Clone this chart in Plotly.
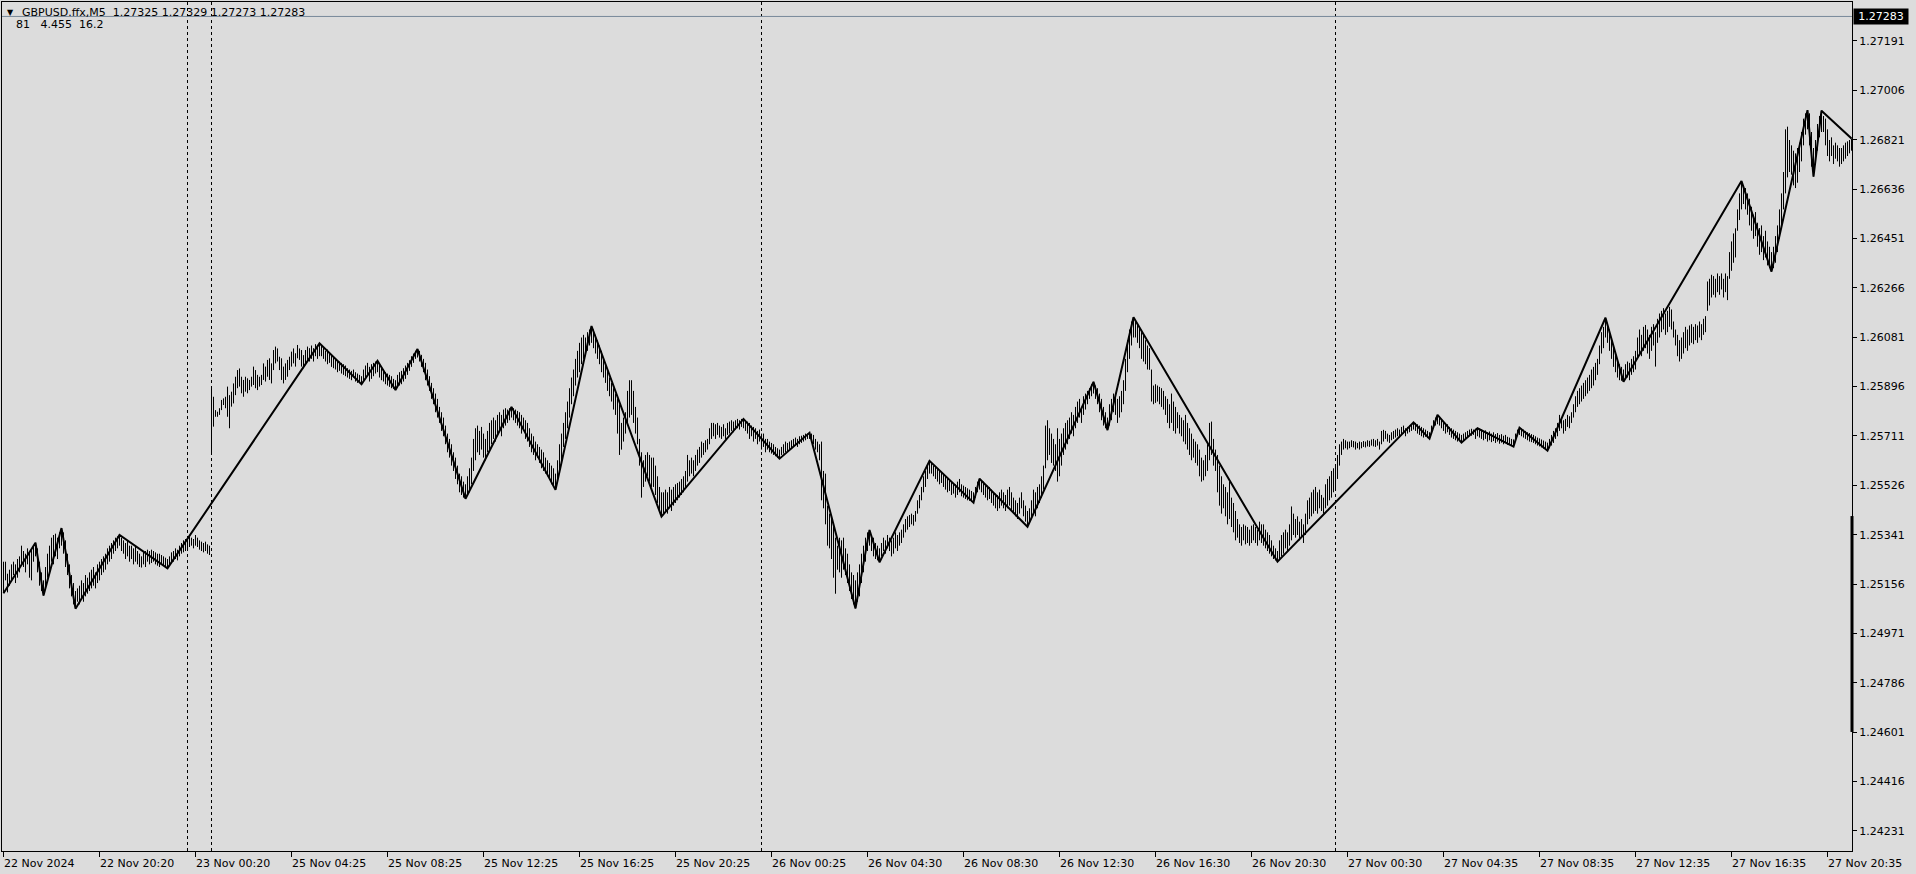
import plotly.graph_objects as go

# Prices are stored as points (0.00001) above 1.24000
BASE = 1.24

lows_pts = [
    1122, 1170, 1125, 1150, 1170, 1190, 1160, 1180, 1200, 1230,
    1220, 1200, 1230, 1180, 1170, 1240, 1260, 1200, 1150, 1130,
    1113, 1140, 1180, 1200, 1240, 1230, 1260, 1250, 1290, 1300,
    1270, 1220, 1190, 1140, 1110, 1080, 1064, 1090, 1080, 1100,
    1090, 1110, 1120, 1130, 1140, 1150, 1140, 1160, 1170, 1190,
    1200, 1210, 1230, 1240, 1250, 1270, 1280, 1290, 1300, 1280,
    1270, 1250, 1260, 1240, 1250, 1230, 1240, 1230, 1220, 1218,
    1230, 1220, 1240, 1230, 1235, 1240, 1230, 1225, 1220, 1230,
    1225, 1220, 1215, 1225, 1235, 1240, 1250, 1245, 1260, 1270,
    1275, 1280, 1290, 1295, 1300, 1290, 1300, 1295, 1285, 1280,
    1275, 1280, 1270, 1265, 1640, 1746, 1783, 1783, 1790, 1808,
    1827, 1815, 1783, 1740, 1821, 1833, 1864, 1890, 1896, 1871,
    1858, 1877, 1871, 1883, 1896, 1902, 1890, 1883, 1896, 1902,
    1921, 1915, 1933, 1921, 1908, 1958, 1983, 1990, 1958, 1921,
    1908, 1921, 1933, 1958, 1971, 1983, 1971, 2002, 1996, 1971,
    1965, 1983, 1996, 1990, 2000, 1990, 2010, 2000, 2010, 2010,
    2000, 1990, 1980, 1985, 1970, 1965, 1960, 1950, 1955, 1945,
    1940, 1935, 1930, 1925, 1920, 1930, 1915, 1910, 1915, 1905,
    1920, 1930, 1940, 1915, 1925, 1935, 1945, 1950, 1930, 1920,
    1915, 1905, 1900, 1895, 1890, 1888, 1883, 1895, 1900, 1905,
    1915, 1925, 1940, 1955, 1970, 1985, 2000, 2005, 1990, 1970,
    1950, 1920, 1900, 1880, 1850, 1830, 1800, 1780, 1760, 1730,
    1710, 1680, 1650, 1630, 1600, 1580, 1550, 1530, 1500, 1490,
    1480, 1476, 1490, 1500, 1530, 1580, 1620, 1650, 1640, 1660,
    1630, 1620, 1650, 1660, 1680, 1700, 1690, 1720, 1730, 1710,
    1740, 1750, 1760, 1770, 1780, 1770, 1760, 1750, 1740, 1720,
    1730, 1700, 1690, 1670, 1650, 1640, 1620, 1630, 1610, 1590,
    1580, 1570, 1560, 1550, 1530, 1520, 1509, 1540, 1580, 1620,
    1670, 1700, 1740, 1780, 1830, 1860, 1900, 1930, 1950, 1980,
    2000, 2010, 2030, 2050, 2060, 2040, 2020, 2000, 1980, 1950,
    1930, 1910, 1880, 1860, 1840, 1810, 1790, 1720, 1640, 1660,
    1690, 1720, 1760, 1780, 1790, 1760, 1720, 1680, 1600, 1480,
    1520, 1540, 1560, 1540, 1520, 1520, 1490, 1460, 1430, 1409,
    1420, 1430, 1420, 1440, 1430, 1450, 1460, 1470, 1480, 1490,
    1500, 1520, 1540, 1560, 1570, 1560, 1580, 1600, 1610, 1630,
    1640, 1650, 1660, 1680, 1700, 1710, 1700, 1715, 1705, 1700,
    1710, 1700, 1715, 1720, 1730, 1725, 1735, 1740, 1735, 1745,
    1740, 1730, 1720, 1700, 1710, 1690, 1700, 1680, 1690, 1660,
    1670, 1650, 1660, 1650, 1645, 1640, 1635, 1630, 1626, 1640,
    1645, 1650, 1655, 1660, 1665, 1670, 1675, 1670, 1680, 1685,
    1690, 1695, 1700, 1700, 1690, 1680, 1660, 1650, 1620, 1470,
    1440, 1380, 1300, 1290, 1250, 1180, 1120, 1210, 1200, 1180,
    1210, 1190, 1160, 1130, 1100, 1080, 1065, 1090, 1110, 1160,
    1200, 1240, 1280, 1300, 1280, 1260, 1250, 1245, 1238, 1260,
    1280, 1270, 1290, 1280, 1260, 1270, 1290, 1280, 1300, 1310,
    1330, 1350, 1360, 1370, 1380, 1375, 1390, 1420, 1440, 1470,
    1500, 1520, 1550, 1570, 1570, 1560, 1550, 1540, 1530, 1535,
    1520, 1510, 1500, 1505, 1490, 1495, 1480, 1490, 1500, 1485,
    1480, 1475, 1470, 1468, 1465, 1461, 1480, 1500, 1510, 1500,
    1490, 1480, 1470, 1475, 1460, 1450, 1440, 1430, 1440, 1450,
    1440, 1430, 1440, 1450, 1430, 1420, 1410, 1400, 1420, 1440,
    1410, 1390, 1371, 1390, 1400, 1420, 1410, 1440, 1460, 1480,
    1510, 1590, 1620, 1640, 1610, 1600, 1580, 1540, 1560, 1600,
    1640, 1660, 1680, 1700, 1720, 1710, 1740, 1760, 1780, 1760,
    1790, 1810, 1830, 1850, 1860, 1870, 1850, 1830, 1800, 1770,
    1750, 1740, 1733, 1750, 1770, 1800, 1790, 1760, 1780, 1800,
    1830, 1880, 1950, 2000, 2050, 2080, 2080, 2060, 2040, 2000,
    1990, 1980, 1960, 1959, 1840, 1830, 1835, 1840, 1830, 1820,
    1810, 1790, 1760, 1740, 1760, 1730, 1720, 1740, 1720, 1710,
    1690, 1680, 1660, 1640, 1620, 1630, 1610, 1600, 1560, 1540,
    1545, 1560, 1580, 1620, 1640, 1600, 1580, 1500, 1450, 1420,
    1440, 1410, 1380, 1400, 1370, 1350, 1320, 1330, 1310, 1300,
    1320, 1305, 1310, 1300, 1310, 1320, 1310, 1300, 1320, 1310,
    1300, 1290, 1280, 1270, 1260, 1250, 1245, 1240, 1250, 1260,
    1270, 1290, 1280, 1300, 1320, 1340, 1330, 1340, 1320, 1330,
    1310, 1340, 1380, 1400, 1410, 1420, 1430, 1420, 1440, 1430,
    1420, 1440, 1450, 1470, 1480, 1500, 1510, 1550, 1600, 1640,
    1660, 1665, 1660, 1665, 1670, 1668, 1660, 1665, 1660, 1665,
    1670, 1668, 1672, 1670, 1675, 1672, 1670, 1675, 1660, 1680,
    1690, 1700, 1690, 1685, 1695, 1700, 1705, 1710, 1705, 1715,
    1720, 1710, 1720, 1725, 1730, 1735, 1730, 1720, 1715, 1710,
    1705, 1708, 1703, 1701, 1720, 1740, 1750, 1755, 1750, 1740,
    1730, 1720, 1725, 1715, 1705, 1700, 1695, 1690, 1692, 1686,
    1695, 1700, 1705, 1710, 1712, 1715, 1700, 1710, 1705, 1700,
    1695, 1700, 1690, 1695, 1688, 1692, 1685, 1690, 1682, 1686,
    1680, 1684, 1678, 1680, 1675, 1671, 1690, 1710, 1715, 1710,
    1705, 1700, 1695, 1690, 1688, 1685, 1680, 1675, 1672, 1668,
    1664, 1660, 1656, 1665, 1675, 1685, 1700, 1710, 1730, 1740,
    1720, 1730, 1745, 1740, 1760, 1780, 1800, 1820, 1830, 1840,
    1850, 1860, 1870, 1880, 1890, 1900, 1920, 1940, 1980, 2020,
    2040, 2080, 2060, 2030, 2000, 1970, 1950, 1930, 1920, 1918,
    1914, 1925, 1930, 1920, 1940, 1950, 1960, 2000, 2020, 2010,
    2030, 2040, 2020, 2000, 2030, 2050, 1971, 2060, 2080, 2100,
    2110, 2090, 2100, 2120, 2110, 2080, 2050, 2010, 1990, 2000,
    2020, 2040, 2030, 2050, 2060, 2055, 2070, 2060, 2080, 2070,
    2090, 2100, 2180, 2200, 2230, 2240, 2230, 2250, 2240, 2260,
    2230, 2250, 2220, 2300, 2330, 2360, 2380, 2480, 2520, 2560,
    2580, 2560, 2540, 2500, 2480, 2450, 2460, 2420, 2390, 2400,
    2370, 2380, 2350, 2340, 2327, 2340, 2360, 2400, 2450, 2500,
    2560, 2620, 2680, 2700, 2690, 2650, 2640, 2660, 2700, 2740,
    2800, 2840, 2860, 2800, 2720, 2683, 2730, 2780, 2830, 2850,
    2850, 2800, 2760, 2740, 2760, 2730, 2750, 2740, 2720, 2730,
    2740, 2750, 2760, 2770, 2780,
]

highs_pts = [
    1240, 1240, 1195, 1210, 1230, 1240, 1230, 1250, 1260, 1300,
    1280, 1270, 1290, 1280, 1290, 1300, 1311, 1290, 1240, 1200,
    1170, 1220, 1270, 1300, 1330, 1340, 1345, 1330, 1350, 1366,
    1350, 1320, 1270, 1230, 1190, 1160, 1130, 1140, 1150, 1170,
    1160, 1190, 1180, 1200, 1210, 1220, 1200, 1230, 1240, 1250,
    1260, 1270, 1290, 1300, 1310, 1320, 1330, 1335, 1340, 1330,
    1320, 1310, 1320, 1300, 1300, 1290, 1300, 1280, 1270, 1260,
    1280, 1280, 1285, 1280, 1285, 1280, 1275, 1270, 1270, 1265,
    1260, 1255, 1250, 1260, 1275, 1280, 1290, 1285, 1300, 1310,
    1320, 1325, 1330, 1335, 1330, 1325, 1340, 1330, 1320, 1315,
    1310, 1315, 1305, 1300, 1896, 1858, 1808, 1802, 1815, 1846,
    1852, 1858, 1896, 1864, 1877, 1908, 1933, 1958, 1964, 1933,
    1921, 1933, 1927, 1921, 1933, 1971, 1958, 1940, 1933, 1940,
    1983, 1971, 1996, 2002, 1983, 2033, 2046, 2039, 2008, 2002,
    1971, 1983, 1996, 2008, 2027, 2039, 2021, 2052, 2039, 2033,
    2014, 2033, 2046, 2040, 2050, 2040, 2055, 2045, 2058, 2050,
    2045, 2030, 2035, 2020, 2015, 2010, 2000, 1995, 1990, 1985,
    1980, 1975, 1965, 1960, 1955, 1960, 1950, 1945, 1940, 1935,
    1960, 1975, 1985, 1970, 1980, 1985, 1990, 1993, 1980, 1970,
    1960, 1950, 1945, 1940, 1935, 1925, 1920, 1940, 1950, 1955,
    1965, 1975, 1985, 1995, 2010, 2020, 2030, 2037, 2030, 2015,
    2000, 1985, 1960, 1935, 1910, 1890, 1870, 1850, 1820, 1800,
    1780, 1750, 1720, 1700, 1680, 1650, 1630, 1600, 1570, 1560,
    1540, 1530, 1560, 1590, 1630, 1700, 1740, 1750, 1730, 1745,
    1720, 1700, 1730, 1760, 1770, 1780, 1770, 1790, 1800, 1790,
    1810, 1815, 1810, 1815, 1820, 1815, 1810, 1805, 1800, 1790,
    1780, 1770, 1760, 1740, 1720, 1710, 1690, 1680, 1670, 1660,
    1650, 1630, 1620, 1610, 1600, 1590, 1570, 1620, 1680, 1720,
    1760, 1800, 1840, 1890, 1930, 1960, 2000, 2030, 2060, 2080,
    2090, 2080, 2100, 2110, 2123, 2110, 2090, 2070, 2050, 2030,
    2000, 1980, 1960, 1930, 1910, 1890, 1870, 1850, 1830, 1760,
    1780, 1800, 1880, 1920, 1920, 1880, 1820, 1780, 1700, 1650,
    1620, 1640, 1650, 1640, 1630, 1630, 1600, 1560, 1520, 1500,
    1500, 1510, 1500, 1520, 1510, 1520, 1530, 1535, 1540, 1550,
    1560, 1580, 1640, 1620, 1630, 1620, 1640, 1660, 1670, 1690,
    1685, 1695, 1700, 1740, 1760, 1760, 1755, 1760, 1750, 1745,
    1755, 1740, 1760, 1765, 1770, 1765, 1770, 1775, 1770, 1775,
    1775, 1770, 1765, 1760, 1750, 1745, 1740, 1730, 1735, 1720,
    1720, 1700, 1700, 1690, 1685, 1680, 1670, 1665, 1660, 1670,
    1680, 1690, 1685, 1690, 1695, 1700, 1705, 1700, 1710, 1712,
    1715, 1720, 1720, 1723, 1720, 1715, 1700, 1690, 1680, 1690,
    1580, 1570, 1450, 1420, 1400, 1370, 1330, 1300, 1330, 1320,
    1330, 1290, 1270, 1230, 1200, 1190, 1170, 1200, 1230, 1270,
    1300, 1330, 1350, 1359, 1340, 1330, 1310, 1300, 1290, 1310,
    1330, 1320, 1340, 1330, 1320, 1330, 1350, 1340, 1350, 1360,
    1380, 1400, 1410, 1415, 1420, 1415, 1430, 1470, 1490, 1520,
    1560, 1580, 1600, 1618, 1610, 1600, 1595, 1590, 1580, 1575,
    1565, 1560, 1550, 1545, 1540, 1535, 1530, 1540, 1550, 1530,
    1525, 1520, 1515, 1510, 1505, 1500, 1520, 1540, 1551, 1545,
    1540, 1530, 1525, 1520, 1510, 1500, 1495, 1490, 1500, 1510,
    1500, 1490, 1510, 1520, 1500, 1480, 1470, 1460, 1480, 1500,
    1470, 1450, 1430, 1440, 1470, 1510, 1500, 1520, 1530, 1560,
    1600, 1750, 1770, 1740, 1720, 1700, 1680, 1740, 1700, 1720,
    1740, 1760, 1770, 1780, 1800, 1790, 1820, 1840, 1850, 1820,
    1860, 1870, 1880, 1890, 1905, 1914, 1900, 1890, 1870, 1850,
    1820, 1800, 1780, 1830, 1850, 1870, 1860, 1850, 1860, 1880,
    1920, 2000, 2070, 2110, 2140, 2156, 2146, 2130, 2120, 2100,
    2090, 2070, 2050, 2040, 1960, 1900, 1905, 1900, 1895, 1890,
    1880, 1860, 1850, 1830, 1870, 1840, 1820, 1800, 1790, 1780,
    1770, 1790, 1760, 1740, 1720, 1700, 1690, 1680, 1660, 1630,
    1620, 1640, 1680, 1760, 1765, 1700, 1660, 1640, 1600, 1560,
    1530, 1520, 1500, 1540, 1480, 1460, 1430, 1400, 1380, 1370,
    1380, 1375, 1370, 1360, 1375, 1380, 1370, 1360, 1390, 1380,
    1380, 1360, 1350, 1340, 1320, 1300, 1290, 1280, 1320, 1340,
    1350, 1360, 1350, 1380, 1447, 1420, 1400, 1410, 1390, 1400,
    1380, 1420, 1470, 1480, 1500, 1510, 1520, 1500, 1510, 1490,
    1480, 1530, 1550, 1560, 1580, 1590, 1600, 1640, 1680, 1690,
    1700, 1695, 1690, 1690, 1695, 1692, 1690, 1685, 1690, 1688,
    1692, 1690, 1695, 1693, 1698, 1700, 1695, 1700, 1690, 1730,
    1734, 1730, 1720, 1715, 1725, 1730, 1735, 1740, 1735, 1745,
    1750, 1740, 1745, 1750, 1755, 1762, 1760, 1755, 1750, 1745,
    1740, 1735, 1730, 1725, 1750, 1770, 1780, 1790, 1780, 1775,
    1765, 1760, 1755, 1745, 1740, 1735, 1730, 1725, 1720, 1715,
    1720, 1725, 1730, 1735, 1738, 1735, 1738, 1740, 1738, 1735,
    1730, 1732, 1725, 1728, 1720, 1725, 1718, 1722, 1715, 1718,
    1712, 1715, 1708, 1705, 1700, 1698, 1720, 1735, 1742, 1738,
    1735, 1730, 1725, 1722, 1718, 1715, 1710, 1705, 1702, 1698,
    1694, 1690, 1686, 1700, 1715, 1730, 1740, 1760, 1790, 1780,
    1770, 1775, 1790, 1785, 1800, 1830, 1860, 1880, 1890, 1900,
    1910, 1920, 1930, 1940, 1960, 1970, 1985, 2000, 2050, 2100,
    2120, 2154, 2130, 2110, 2080, 2050, 2020, 2000, 1980, 1970,
    1960, 1980, 1990, 1985, 2000, 2010, 2030, 2080, 2110, 2090,
    2120, 2127, 2110, 2090, 2120, 2130, 2100, 2150, 2170, 2180,
    2190, 2170, 2180, 2195, 2185, 2140, 2110, 2090, 2070, 2080,
    2100, 2120, 2110, 2125, 2130, 2120, 2130, 2125, 2140, 2130,
    2150, 2160, 2290, 2300, 2315, 2310, 2300, 2320, 2310, 2320,
    2300, 2320, 2310, 2400, 2440, 2470, 2489, 2560, 2620, 2666,
    2650, 2640, 2620, 2600, 2570, 2540, 2550, 2510, 2490, 2500,
    2460, 2480, 2440, 2420, 2400, 2420, 2460, 2500, 2560, 2620,
    2700, 2860, 2870, 2820, 2800, 2780, 2770, 2790, 2810, 2850,
    2900, 2920, 2932, 2920, 2850, 2790, 2820, 2880, 2910, 2930,
    2910, 2900, 2860, 2820, 2830, 2800, 2810, 2800, 2790, 2790,
    2800, 2810, 2815, 2820, 2826,
]

# ZigZag vertices: bar index and price points
zz_bars = [0, 16, 20, 29, 36, 58, 82, 158, 179, 187, 196, 207, 231, 254, 276,
           294, 329, 370, 388, 403, 426, 433, 438, 463, 485, 488, 512, 545,
           552, 565, 637, 705, 713, 717, 729, 737, 755, 758, 772, 801, 810,
           869, 884, 902, 905, 909, 924]
zz_pts = [1122, 1311, 1113, 1366, 1064, 1340, 1215, 2058, 1905, 1993, 1883,
          2037, 1476, 1820, 1509, 2123, 1409, 1775, 1626, 1723, 1065, 1359,
          1238, 1618, 1461, 1551, 1371, 1914, 1733, 2156, 1240, 1762, 1701,
          1790, 1686, 1740, 1671, 1742, 1656, 2154, 1914, 2666, 2327, 2932,
          2683, 2930, 2826]

tick_labels = ["22 Nov 2024", "22 Nov 20:20", "23 Nov 00:20", "25 Nov 04:25",
               "25 Nov 08:25", "25 Nov 12:25", "25 Nov 16:25", "25 Nov 20:25",
               "26 Nov 00:25", "26 Nov 04:30", "26 Nov 08:30", "26 Nov 12:30",
               "26 Nov 16:30", "26 Nov 20:30", "27 Nov 00:30", "27 Nov 04:35",
               "27 Nov 08:35", "27 Nov 12:35", "27 Nov 16:35", "27 Nov 20:35"]
BARS_PER_LABEL = 48

separator_bars = [92, 104, 379, 666]

price_ticks = [1.24231, 1.24416, 1.24601, 1.24786, 1.24971, 1.25156, 1.25341,
               1.25526, 1.25711, 1.25896, 1.26081, 1.26266, 1.26451, 1.26636,
               1.26821, 1.27006, 1.27191]

bid_price = 1.27283
symbol = "GBPUSD.ffx,M5"
ohlc_now = ["1.27325", "1.27329", "1.27273", "1.27283"]
sub_values = ["81", "4.455", "16.2"]
scale_bar = [1.24602, 1.25411]

Y_MIN, Y_MAX = 1.24156, 1.273371

FONT = "DejaVu Sans"
BG = "#DCDCDC"
NB = "\u00a0"

lows = [BASE + v / 1e5 for v in lows_pts]
highs = [BASE + v / 1e5 for v in highs_pts]
zz_prices = [BASE + v / 1e5 for v in zz_pts]

bx, by = [], []
for i, (lo, hi) in enumerate(zip(lows, highs)):
    bx += [i, i, None]
    by += [lo, hi, None]

fig = go.Figure()
fig.add_trace(go.Scatter(x=bx, y=by, mode="lines",
                         line=dict(color="black", width=1),
                         hoverinfo="skip", showlegend=False))
fig.add_trace(go.Scatter(x=zz_bars, y=zz_prices, mode="lines",
                         line=dict(color="black", width=2),
                         hoverinfo="skip", showlegend=False))

n_bars = len(lows_pts)
tick_bars = [k * BARS_PER_LABEL for k in range(len(tick_labels))]

shapes = []
for sb in separator_bars:
    shapes.append(dict(type="line", xref="x", yref="paper", x0=sb, x1=sb,
                       y0=0, y1=1, line=dict(color="black", width=1, dash="3px,3px")))
shapes.append(dict(type="line", xref="paper", yref="y", x0=0, x1=1,
                   y0=bid_price, y1=bid_price,
                   line=dict(color="#778899", width=1)))
shapes.append(dict(type="line", xref="paper", yref="y", x0=1, x1=1,
                   y0=scale_bar[0], y1=scale_bar[1],
                   line=dict(color="black", width=3)))

annotations = []
for tb, tl in zip(tick_bars, tick_labels):
    annotations.append(dict(x=tb, y=0, xref="x", yref="paper", text=tl,
                            showarrow=False, xanchor="left", yanchor="middle",
                            xshift=-2, yshift=-12,
                            font=dict(family=FONT, size=11, color="black")))

annotations.append(dict(x=0, y=1, xref="paper", yref="paper", text="\u25bc",
                        showarrow=False, xanchor="center", yanchor="middle",
                        xshift=8, yshift=-10,
                        font=dict(family=FONT, size=8, color="black")))
annotations.append(dict(x=0, y=1, xref="paper", yref="paper",
                        text=symbol + NB + NB + " ".join(ohlc_now),
                        showarrow=False, xanchor="left", yanchor="middle",
                        xshift=18, yshift=-10,
                        font=dict(family=FONT, size=11, color="black")))
annotations.append(dict(x=0, y=1, xref="paper", yref="paper",
                        text=(NB * 3).join(sub_values[:2]) + NB + NB + sub_values[2],
                        showarrow=False, xanchor="left", yanchor="middle",
                        xshift=12, yshift=-22,
                        font=dict(family=FONT, size=11, color="black")))
annotations.append(dict(x=1, y=bid_price, xref="paper", yref="y",
                        text=f"{bid_price:.5f}", showarrow=False,
                        xanchor="left", yanchor="middle", xshift=1,
                        bgcolor="black", width=52, height=13, borderpad=1,
                        font=dict(family=FONT, size=11, color="white")))

# range offset by a quarter bar so each 1px bar falls on a pixel centre
fig.update_layout(
    width=1916, height=874,
    margin=dict(l=2, r=64, t=2, b=23, pad=0),
    paper_bgcolor=BG, plot_bgcolor=BG,
    showlegend=False,
    shapes=shapes, annotations=annotations,
    xaxis=dict(range=[-0.75, n_bars - 0.75], showgrid=False, zeroline=False,
               showline=True, mirror=True, linecolor="black", linewidth=1,
               ticks="outside", tickvals=tick_bars, ticklen=5,
               tickcolor="black", tickwidth=1, showticklabels=False,
               fixedrange=True),
    yaxis=dict(range=[Y_MIN, Y_MAX], side="right", showgrid=False,
               zeroline=False, showline=True, mirror=True, linecolor="black",
               linewidth=1, ticks="outside", ticklen=4, tickcolor="black",
               tickvals=price_ticks, ticktext=[f"{p:.5f}" for p in price_ticks],
               tickfont=dict(family=FONT, size=11, color="black"),
               fixedrange=True),
)

fig.write_html("out.html", config={"displayModeBar": False},
               post_script="document.body.style.margin='0';document.body.style.overflow='hidden';")
